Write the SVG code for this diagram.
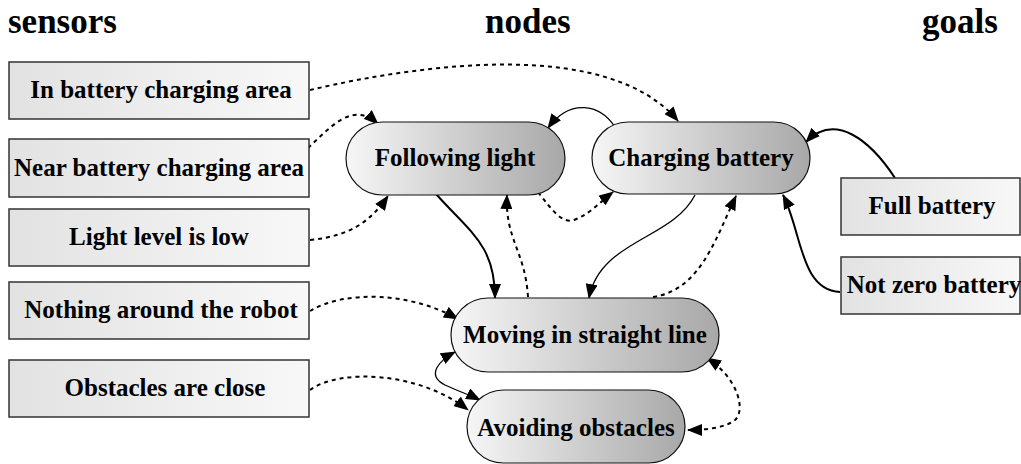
<svg xmlns="http://www.w3.org/2000/svg" width="1021" height="464" viewBox="0 0 1021 464">
<style>
  .title { font-family: "Liberation Serif", "Times New Roman", serif; font-weight: bold; font-size: 35px; fill: #000; }
  .lbl { font-family: "Liberation Serif", "Times New Roman", serif; font-weight: bold; font-size: 25px; fill: #000; text-anchor: middle; }
  .box { fill: url(#boxGrad); stroke: #333; stroke-width: 1.5; }
  .node { fill: url(#nodeGrad); stroke: #111; stroke-width: 1.2; }
  .solid { fill: none; stroke: #000; stroke-width: 1.3; }
  .thick { fill: none; stroke: #000; stroke-width: 2; }
  .dash { fill: none; stroke: #000; stroke-width: 2; stroke-dasharray: 4 4; }
</style>
<defs>
  <linearGradient id="boxGrad" x1="0" y1="0" x2="1" y2="0">
    <stop offset="0" stop-color="#e2e2e2"/>
    <stop offset="1" stop-color="#f8f8f8"/>
  </linearGradient>
  <linearGradient id="nodeGrad" x1="0" y1="0" x2="1" y2="0">
    <stop offset="0" stop-color="#f6f6f6"/>
    <stop offset="1" stop-color="#a8a8a8"/>
  </linearGradient>
  <marker id="arr" markerWidth="15" markerHeight="12" refX="14" refY="6" orient="auto" markerUnits="userSpaceOnUse">
    <path d="M0,0 L15,6 L0,12 z" fill="#000"/>
  </marker>
  <marker id="arrS" markerWidth="15" markerHeight="12" refX="1" refY="6" orient="auto" markerUnits="userSpaceOnUse">
    <path d="M15,0 L0,6 L15,12 z" fill="#000"/>
  </marker>
</defs>

<g id="titles">
  <text class="title" x="8" y="33">sensors</text>
  <text class="title" x="485" y="33">nodes</text>
  <text class="title" x="922" y="33">goals</text>
</g>

<g id="connectors">
  <path class="dash" d="M310,90 C430,62 610,40 678,121" marker-end="url(#arr)"/>
  <path class="dash" d="M308,148 C330,128 352,100 378,124" marker-end="url(#arr)"/>
  <path class="dash" d="M310,240 C350,236 370,222 388,196" marker-end="url(#arr)"/>
  <path class="dash" d="M310,311 C345,290 410,292 458,319" marker-end="url(#arr)"/>
  <path class="dash" d="M310,390 C340,368 420,372 468,410" marker-end="url(#arr)"/>
  <path class="thick" d="M436,194 C470,232 495,245 495,298" marker-end="url(#arr)"/>
  <path class="dash" d="M528,297 C525,250 505,240 507,195" marker-end="url(#arr)"/>
  <path class="dash" d="M538,192 C552,210 562,224 574,220 C590,214 600,202 613,192" marker-end="url(#arr)"/>
  <path class="solid" d="M615,127 C600,104 570,98 548,128" marker-end="url(#arr)"/>
  <path class="solid" d="M695,195 C672,240 600,240 589,298" marker-end="url(#arr)"/>
  <path class="dash" d="M653,297 C700,290 715,240 736,196" marker-end="url(#arr)"/>
  <path class="thick" d="M895,178 C870,140 835,112 806,142" marker-end="url(#arr)"/>
  <path class="thick" d="M840,292 C800,290 802,232 783,195" marker-end="url(#arr)"/>
  <path class="solid" d="M455,352 C440,360 425,375 445,385 C460,392 470,395 480,400" marker-start="url(#arrS)" marker-end="url(#arr)"/>
  <path class="dash" d="M707,358 C738,378 746,410 735,420 C725,428 705,430 688,430" marker-start="url(#arrS)" marker-end="url(#arr)"/>
</g>

<g id="s-charging-area">
  <rect class="box" x="9" y="62" width="300" height="57"/>
  <text class="lbl" x="161" y="98">In battery charging area</text>
</g>
<g id="s-near-charging">
  <rect class="box" x="9" y="139" width="300" height="58"/>
  <text class="lbl" x="159" y="176">Near battery charging area</text>
</g>
<g id="s-light-low">
  <rect class="box" x="9" y="209" width="300" height="57"/>
  <text class="lbl" x="159" y="245">Light level is low</text>
</g>
<g id="s-nothing">
  <rect class="box" x="9" y="282" width="300" height="57"/>
  <text class="lbl" x="161" y="318">Nothing around the robot</text>
</g>
<g id="s-obstacles">
  <rect class="box" x="9" y="360" width="300" height="57"/>
  <text class="lbl" x="165" y="396">Obstacles are close</text>
</g>

<g id="n-following">
  <rect class="node" x="346" y="122" width="219" height="73" rx="36.5" ry="36.5"/>
  <text class="lbl" x="455" y="166">Following light</text>
</g>
<g id="n-charging">
  <rect class="node" x="592" y="122" width="218" height="72" rx="36" ry="36"/>
  <text class="lbl" x="701" y="166">Charging battery</text>
</g>
<g id="n-moving">
  <rect class="node" x="451" y="298" width="268" height="74" rx="37" ry="37"/>
  <text class="lbl" x="585" y="343">Moving in straight line</text>
</g>
<g id="n-avoiding">
  <rect class="node" x="467" y="390" width="218" height="73" rx="36.5" ry="36.5"/>
  <text class="lbl" x="576" y="436">Avoiding obstacles</text>
</g>

<g id="g-full">
  <rect class="box" x="841" y="178" width="179" height="57"/>
  <text class="lbl" x="932" y="214">Full battery</text>
</g>
<g id="g-notzero">
  <rect class="box" x="841" y="257" width="179" height="57"/>
  <text class="lbl" x="934" y="293">Not zero battery</text>
</g>
</svg>
